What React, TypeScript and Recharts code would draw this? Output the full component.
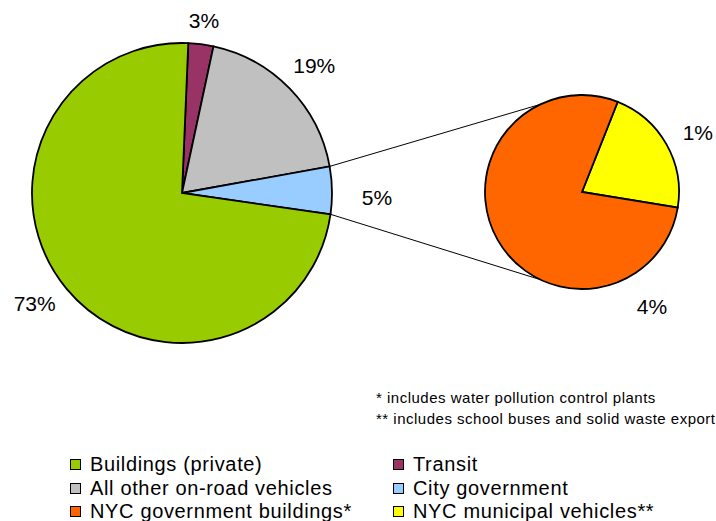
import React from 'react';
import { PieChart, Pie, Cell, Legend, Customized } from 'recharts';

// ---------- data ----------
const mainNames = ['Transit', 'All other on-road vehicles', 'City government', 'Buildings (private)'];
const mainValues = [2.7, 18.8, 5.1, 73.4];
const mainLabels = ['3%', '19%', '5%', '73%'];

const subNames = ['NYC municipal vehicles**', 'NYC government buildings*'];
const subValues = [1.1, 4.0];
const subLabels = ['1%', '4%'];

const legendOrder = [
  'Buildings (private)',
  'Transit',
  'All other on-road vehicles',
  'City government',
  'NYC government buildings*',
  'NYC municipal vehicles**',
];

const footnotes = [
  '* includes water pollution control plants',
  '** includes school buses and solid waste export',
];

// ---------- styles / layout ----------
const COLORS: Record<string, string> = {
  'Transit': '#993366',
  'All other on-road vehicles': '#C0C0C0',
  'City government': '#99CCFF',
  'Buildings (private)': '#99CC00',
  'NYC municipal vehicles**': '#FFFF00',
  'NYC government buildings*': '#FF6600',
};

const FONT = '"Liberation Sans", Arial, Helvetica, sans-serif';
const W = 716;
const H = 521;

const MAIN = { cx: 182, cy: 193, r: 150, start: 87.6 };
const SUB = { cx: 582, cy: 192, r: 97, start: 68.4 };
const SUB_CONNECT_ANGLE = 115.3; // where connector lines meet the small pie

type Placement = { offset: number; angle?: number };
const mainLabelPlacement: Placement[] = [
  { offset: 24 },
  { offset: 34 },
  { offset: 45, angle: -1.2 },
  { offset: 34, angle: -143.2 },
];
const subLabelPlacement: Placement[] = [
  { offset: 33, angle: 27 },
  { offset: 37, angle: -58.5 },
];

const RAD = Math.PI / 180;
const polar = (cx: number, cy: number, r: number, a: number) => ({
  x: cx + r * Math.cos(-a * RAD),
  y: cy + r * Math.sin(-a * RAD),
});

const mainTable = mainNames.map((name, i) => ({ name, value: mainValues[i], label: mainLabels[i] }));
const subTable = subNames.map((name, i) => ({ name, value: subValues[i], label: subLabels[i] }));

const makeLabel = (labels: string[], placement: Placement[]) => (p: any) => {
  const pl = placement[p.index];
  const ang = pl.angle !== undefined ? pl.angle : p.midAngle;
  const pt = polar(p.cx, p.cy, p.outerRadius + pl.offset, ang);
  return (
    <text x={pt.x} y={pt.y} textAnchor="middle" dominantBaseline="central"
      fontFamily={FONT} fontSize={21} fill="#000">
      {labels[p.index]}
    </text>
  );
};

const renderMainLabel = makeLabel(mainLabels, mainLabelPlacement);
const renderSubLabel = makeLabel(subLabels, subLabelPlacement);

const Connectors = () => {
  const total = mainValues.reduce((a, b) => a + b, 0);
  const idx = mainNames.indexOf('City government');
  const before = mainValues.slice(0, idx).reduce((a, b) => a + b, 0);
  const a1 = MAIN.start - (360 * before) / total;
  const a2 = a1 - (360 * mainValues[idx]) / total;
  const p1 = polar(MAIN.cx, MAIN.cy, MAIN.r, a1);
  const p2 = polar(MAIN.cx, MAIN.cy, MAIN.r, a2);
  const q1 = polar(SUB.cx, SUB.cy, SUB.r, SUB_CONNECT_ANGLE);
  const q2 = polar(SUB.cx, SUB.cy, SUB.r, -SUB_CONNECT_ANGLE);
  return (
    <g>
      <line x1={p1.x} y1={p1.y} x2={q1.x} y2={q1.y} stroke="#000" strokeWidth={1} />
      <line x1={p2.x} y1={p2.y} x2={q2.x} y2={q2.y} stroke="#000" strokeWidth={1} />
      {footnotes.map((t, i) => (
        <text key={i} x={376} y={403 + i * 21} fontFamily={FONT} fontSize={15}
          letterSpacing={0.5} fill="#000">
          {t}
        </text>
      ))}
    </g>
  );
};

const legendCols = [70, 393];
const legendRows = [464, 488, 511];
const LEGEND_TOP = 450;

const LegendContent = () => (
  <div style={{ position: 'relative', width: W, height: 71, fontFamily: FONT }}>
    {legendOrder.map((name, i) => {
      const col = i % 2;
      const row = Math.floor(i / 2);
      const cy = legendRows[row] - LEGEND_TOP;
      const x = legendCols[col];
      return (
        <div key={name}>
          <div style={{
            position: 'absolute', left: x, top: cy - 5, width: 11, height: 11,
            boxSizing: 'border-box', border: '1.5px solid #000', background: COLORS[name],
          }} />
          <div style={{
            position: 'absolute', left: x + 20, top: cy - 12, height: 24, lineHeight: '24px',
            fontSize: 20, color: '#000', whiteSpace: 'nowrap', letterSpacing: 0.65,
          }}>{name}</div>
        </div>
      );
    })}
  </div>
);

export default function App() {
  return (
    <div style={{ position: 'absolute', left: 0, top: 0, width: W, height: H, background: '#fff' }}>
      <PieChart width={W} height={H} margin={{ top: 0, right: 0, bottom: 0, left: 0 }}>
        <Customized component={Connectors} />
        <Pie data={mainTable} dataKey="value" nameKey="name" cx={MAIN.cx} cy={MAIN.cy}
          outerRadius={MAIN.r} startAngle={MAIN.start} endAngle={MAIN.start - 360}
          stroke="#000" strokeWidth={1.8} label={renderMainLabel} labelLine={false}
          isAnimationActive={false}>
          {mainTable.map((d) => <Cell key={d.name} fill={COLORS[d.name]} />)}
        </Pie>
        <Pie data={subTable} dataKey="value" nameKey="name" cx={SUB.cx} cy={SUB.cy}
          outerRadius={SUB.r} startAngle={SUB.start} endAngle={SUB.start - 360}
          stroke="#000" strokeWidth={1.8} label={renderSubLabel} labelLine={false}
          isAnimationActive={false}>
          {subTable.map((d) => <Cell key={d.name} fill={COLORS[d.name]} />)}
        </Pie>
        <Legend content={LegendContent}
          wrapperStyle={{ position: 'absolute', left: 0, top: LEGEND_TOP, width: W, height: 71 }} />
      </PieChart>
    </div>
  );
}
